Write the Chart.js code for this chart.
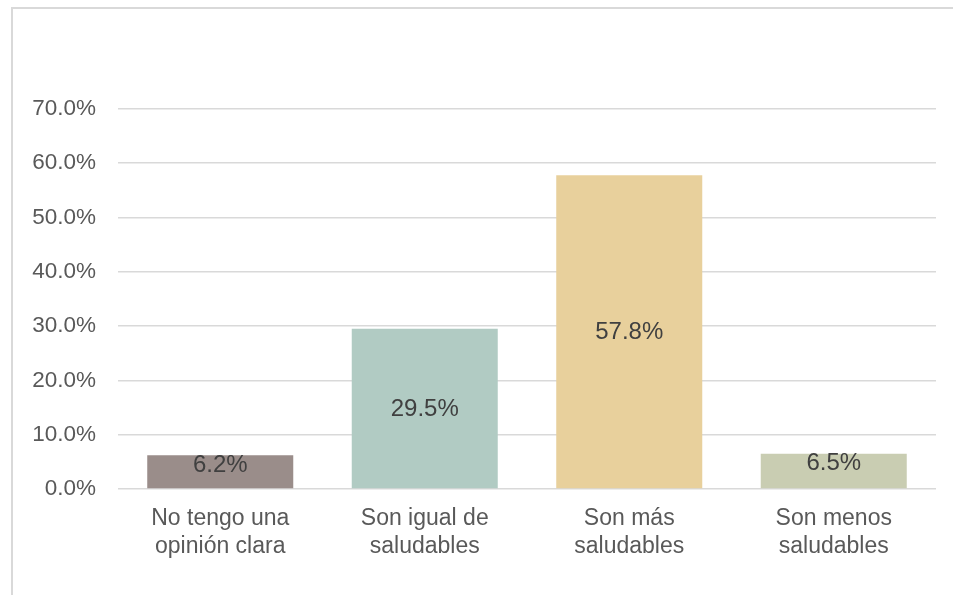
<!DOCTYPE html>
<html>
<head>
<meta charset="utf-8">
<script src="https://cdn.jsdelivr.net/npm/chart.js@4"></script>
<style>
  html, body { margin: 0; padding: 0; background: #fff; overflow: hidden; }
  #frame {
    position: absolute; left: 11px; top: 7px; width: 1000px; height: 700px;
    border: 2px solid #d9d9d9; box-sizing: border-box;
  }
  #wrap { position: absolute; left: 0; top: 0; width: 953px; height: 595px; }
</style>
</head>
<body>
<div id="frame"></div>
<div id="wrap"><canvas id="myChart" width="953" height="595"></canvas></div>
<script>
const categorias = [
  ["No tengo una", "opinión clara"],
  ["Son igual de", "saludables"],
  ["Son más", "saludables"],
  ["Son menos", "saludables"],
];
const porcentajes = [6.2, 29.5, 57.8, 6.5];
const colores = ["#9a8d8a", "#b1cbc3", "#e8d09c", "#c9cdb2"];
const ejeY = { min: 0, max: 70, paso: 10 };

const fuente = '"Liberation Sans", Arial, sans-serif';

// etiquetas de valor dentro de cada barra
const etiquetasBarras = {
  id: "etiquetasBarras",
  afterDatasetsDraw(chart) {
    const ctx = chart.ctx;
    const meta = chart.getDatasetMeta(0);
    ctx.save();
    ctx.font = "24px " + fuente;
    ctx.fillStyle = "#404040";
    ctx.textAlign = "center";
    ctx.textBaseline = "middle";
    meta.data.forEach((bar, i) => {
      const alto = bar.base - bar.y;
      // si no cabe centrada, se pega al borde superior
      const y = alto < 44 ? bar.y + 9 : (bar.y + bar.base) / 2;
      ctx.fillText(porcentajes[i].toFixed(1) + "%", bar.x, y + 1);
    });
    ctx.restore();
  },
};

console.log("Graficas");
const ctx = document.getElementById("myChart").getContext("2d");
const myChart = new Chart(ctx, {
  type: "bar",
  data: {
    labels: categorias,
    datasets: [
      {
        data: porcentajes,
        backgroundColor: colores,
        borderWidth: 0,
        barPercentage: 0.714,
        categoryPercentage: 1,
      },
    ],
  },
  options: {
    responsive: false,
    animation: false,
    layout: { padding: { top: 109, right: 17, left: 0, bottom: 0 } },
    plugins: {
      legend: { display: false },
      tooltip: { enabled: false },
    },
    scales: {
      x: {
        grid: { display: false },
        border: { display: false },
        ticks: {
          color: "#595959",
          font: { family: fuente, size: 23, lineHeight: 1.22 },
          padding: 8,
          maxRotation: 0,
          autoSkip: false,
        },
        afterFit: (scale) => { scale.height = 106; },
      },
      y: {
        min: ejeY.min,
        max: ejeY.max,
        grid: { color: "#d9d9d9", lineWidth: 1.6, drawTicks: false },
        border: { display: false },
        ticks: {
          stepSize: ejeY.paso,
          color: "#595959",
          font: { family: fuente, size: 22.5 },
          padding: 22,
          callback: (v) => v.toFixed(1) + "%",
        },
        afterFit: (scale) => { scale.width = 118; },
      },
    },
  },
  plugins: [etiquetasBarras],
});
</script>
</body>
</html>
